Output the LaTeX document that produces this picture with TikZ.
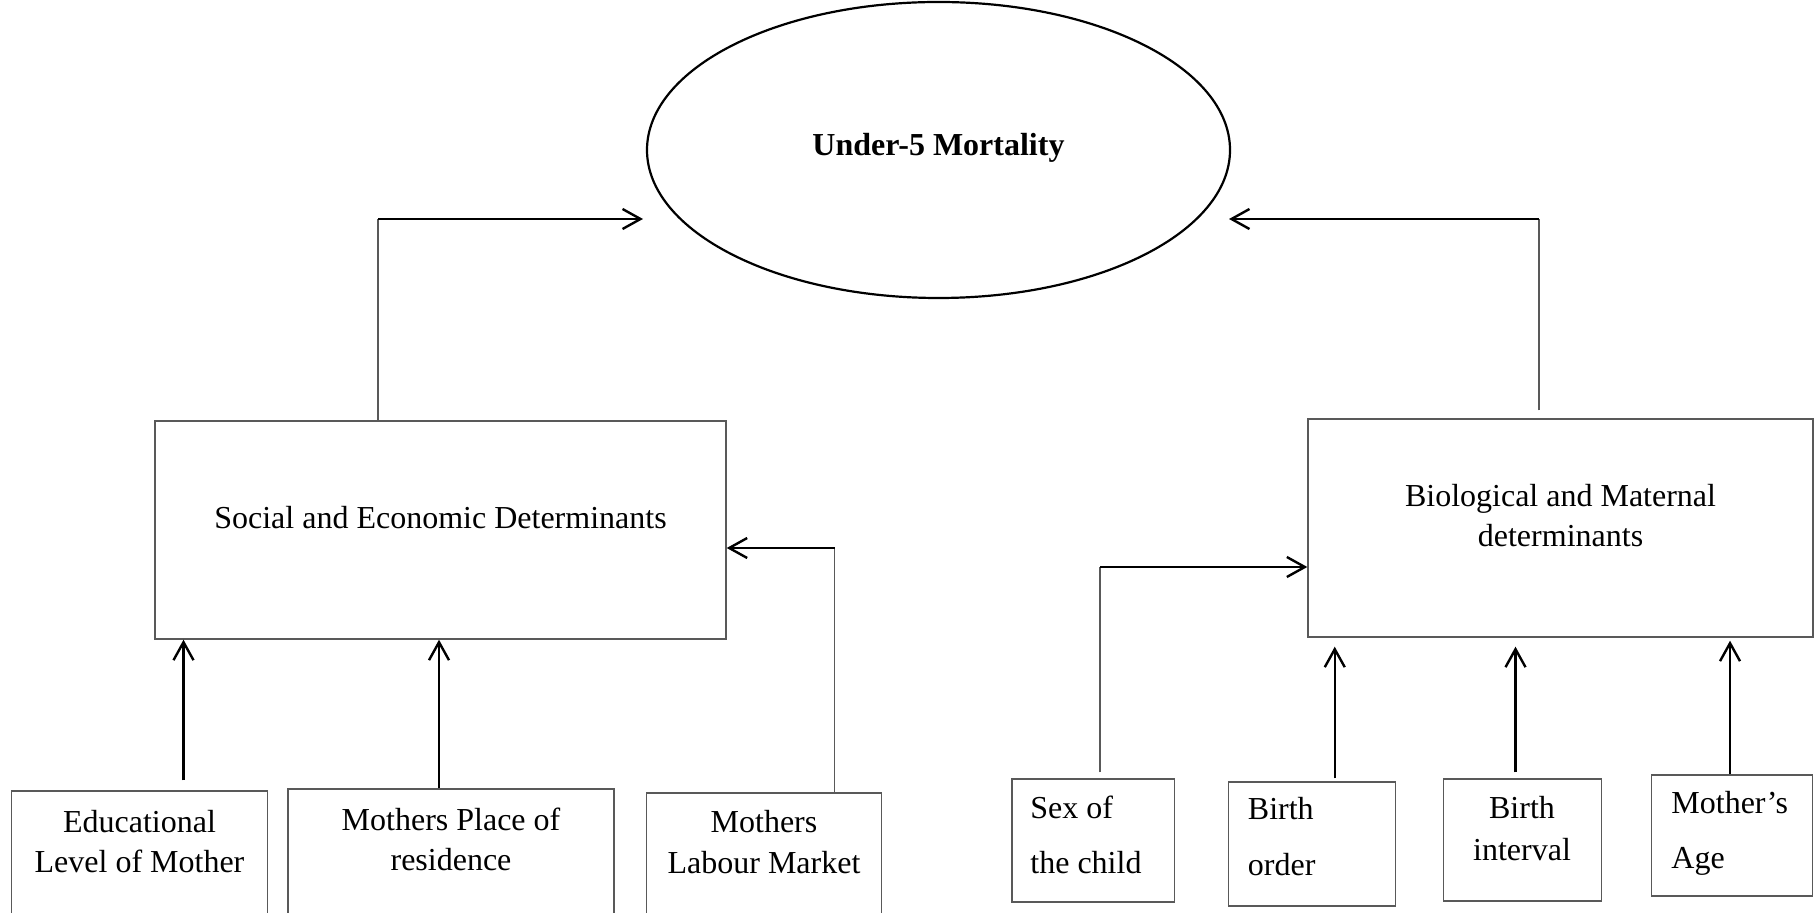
\documentclass[tikz,border=0pt]{standalone}
\usepackage{fontspec}
\setmainfont{Liberation Serif}
\usetikzlibrary{arrows.meta,shapes.geometric,calc}
\begin{document}
\begin{tikzpicture}[x=0.5pt,y=-0.5pt,
  box/.style={draw=black!65, line width=0.7pt, rectangle, inner sep=0pt},
  thinline/.style={draw=black!65, line width=0.7pt},
  arr/.style={draw=black, line width=1.2pt, -{Straight Barb[length=9pt,width=10pt]}},
  txt/.style={font=\fontsize{16pt}{20pt}\selectfont, inner sep=0pt, anchor=base},
  ltxt/.style={txt, anchor=base west}]
\useasboundingbox (0,0) rectangle (1818,913);

% ellipse
\node[draw=black, line width=1.1pt, ellipse, minimum width=291.5pt, minimum height=148pt, inner sep=0pt] (u5) at (938.5,150) {};
\node[txt, font=\fontsize{16pt}{20pt}\selectfont\bfseries] (title) at (938.5,155.5) {Under-5 Mortality};

% main boxes
\node[box, minimum width=285.5pt, minimum height=109pt] (soc) at (440.5,530) {};
\node[box, minimum width=252.5pt, minimum height=109pt] (bio) at (1560.5,528) {};

% bottom boxes
\node[box, minimum width=128pt, minimum height=70pt] (edu) at (139.5,861) {};
\node[box, minimum width=163pt, minimum height=71pt] (place) at (451,860) {};
\node[box, minimum width=117.5pt, minimum height=69pt] (lab) at (764,862) {};
\node[box, minimum width=81.25pt, minimum height=61.5pt] (sex) at (1093.25,840.5) {};
\node[box, minimum width=83.5pt, minimum height=62pt] (bord) at (1311.75,844) {};
\node[box, minimum width=78.75pt, minimum height=61pt] (bint) at (1522.5,840) {};
\node[box, minimum width=80.5pt, minimum height=60.5pt] (mage) at (1732,835.5) {};

% texts
\node[txt] (soct) at (440.5,529) {Social and Economic Determinants};
\node[txt] (biot1) at (1560.5,507) {Biological and Maternal};
\node[txt] (biot2) at (1560.5,547) {determinants};
\node[txt] (edut1) at (139.5,832) {Educational};
\node[txt] (edut2) at (139.5,872) {Level of Mother};
\node[txt] (plt1) at (451,830) {Mothers Place of};
\node[txt] (plt2) at (451,870) {residence};
\node[txt] (labt1) at (764,832) {Mothers};
\node[txt] (labt2) at (764,873) {Labour Market};
\node[ltxt] (sext1) at (1030,818) {Sex of};
\node[ltxt] (sext2) at (1030,873) {the child};
\node[ltxt] (bordt1) at (1247.5,819) {Birth};
\node[ltxt] (bordt2) at (1247.5,875) {order};
\node[txt] (bintt1) at (1522,818) {Birth};
\node[txt] (bintt2) at (1522,860) {interval};
\node[ltxt] (maget1) at (1671,813) {Mother’s};
\node[ltxt] (maget2) at (1671,868) {Age};

% corner and free-end coordinates
\coordinate (lc) at (378,219);
\coordinate (ltip) at (643,219);
\coordinate (rc) at (1539,219);
\coordinate (rtip) at (1229,219);
\coordinate (labc) at (834.5,548);
\coordinate (sexc) at (1100,567);

% social -> under-5
\draw[thinline] (soc.north -| lc) -- (lc);
\draw[arr] (lc) -- (ltip);
% biological -> under-5
\draw[thinline] ($(bio.north -| rc)+(0,-8)$) -- (rc);
\draw[arr] (rc) -- (rtip);
% labour market -> social
\draw[thinline] (lab.north -| labc) -- (labc);
\draw[arr] (labc) -- (soc.east |- labc);
% sex of child -> biological
\draw[thinline] ($(sex.north -| sexc)+(0,-6)$) -- (sexc);
\draw[arr] (sexc) -- (bio.west |- sexc);
% upward arrows
\draw[arr] ($(edu.north)+(44,-10)$) -- (soc.south -| {$(edu.north)+(44,0)$});
\draw[arr] ($(place.north)+(-12,0)$) -- (soc.south -| {$(place.north)+(-12,0)$});
\draw[arr] ($(bord.north)+(23,-3)$) -- ($(bio.south -| {$(bord.north)+(23,0)$})+(0,9)$);
\draw[arr] ($(bint.north)+(-7,-6)$) -- ($(bio.south -| {$(bint.north)+(-7,0)$})+(0,9)$);
\draw[arr] ($(mage.north)+(-2,0)$) -- ($(bio.south -| {$(mage.north)+(-2,0)$})+(0,3)$);
\end{tikzpicture}
\end{document}
